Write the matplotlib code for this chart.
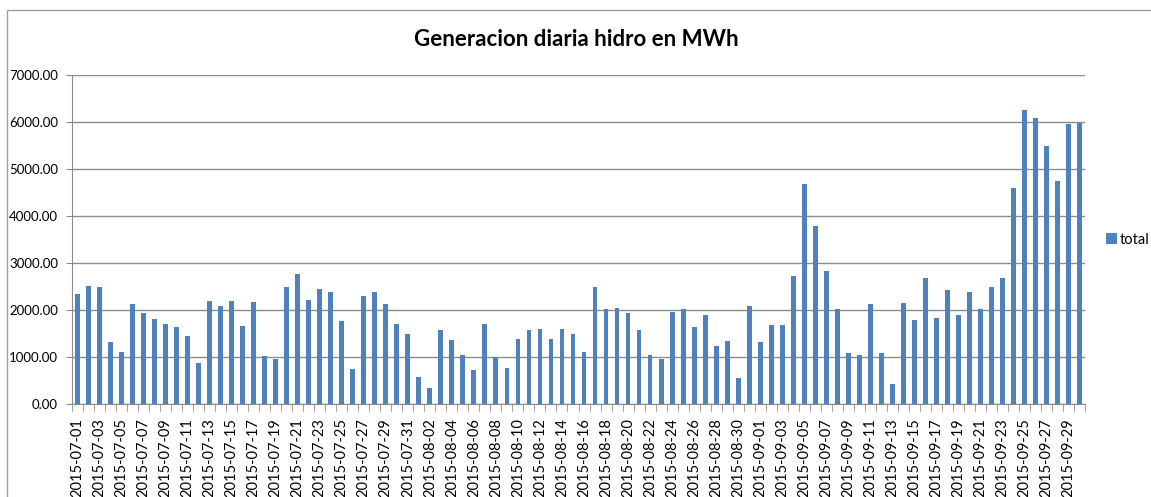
import datetime as dt

import matplotlib
matplotlib.use("Agg")
import matplotlib.pyplot as plt
import numpy as np
from matplotlib.patches import Rectangle

# daily hydro generation (MWh), 2015-07-01 .. 2015-09-30
july = [2330, 2510, 2490, 1320, 1110, 2120, 1940, 1800, 1710, 1630,
        1450, 870, 2200, 2090, 2200, 1650, 2170, 1030, 960, 2490,
        2770, 2220, 2455, 2380, 1760, 740, 2300, 2380, 2120, 1700, 1490]
august = [580, 340, 1570, 1360, 1050, 720, 1700, 1000, 770, 1380,
          1570, 1600, 1380, 1600, 1490, 1110, 2490, 2020, 2040, 1930,
          1570, 1050, 950, 1960, 2020, 1640, 1890, 1230, 1330, 550, 2080]
september = [1320, 1680, 1680, 2720, 4680, 3790, 2830, 2020, 1080, 1050,
             2120, 1080, 430, 2150, 1780, 2680, 1830, 2430, 1890, 2380,
             2020, 2490, 2680, 4600, 6260, 6080, 5490, 4750, 5960, 5980]

values = july + august + september
start = dt.date(2015, 7, 1)
dates = [(start + dt.timedelta(days=i)).isoformat() for i in range(len(values))]

bar_color = "#4F81BD"
grid_color = "#8C8C8C"
plt.rcParams["font.family"] = ["Lato", "DejaVu Sans"]

fig = plt.figure(figsize=(11.51, 4.97), dpi=100)
# chart frame (extends past the right and bottom edges of the picture)
fig.patches.append(Rectangle((7 / 1151, -0.1), 1.2, 1.09 - 5 / 497,
                             transform=fig.transFigure, fill=False,
                             edgecolor="#A0A0A0", linewidth=1.0))

ax = fig.add_axes([72 / 1151, 1 - 404 / 497, 1013 / 1151, 329 / 497])
x = np.arange(len(values))
ax.bar(x, values, width=0.44, color=bar_color, label="total", zorder=3)

ax.set_xlim(-0.5, len(values) - 0.5)
ax.set_ylim(0, 7000)
ax.set_yticks(np.arange(0, 7001, 1000))
ax.set_yticklabels([f"{v:.2f}" for v in np.arange(0, 7001, 1000)], fontsize=9.5)
ax.yaxis.grid(True, color=grid_color, linewidth=1.0, zorder=0)
ax.tick_params(axis="y", length=4, color=grid_color, pad=6)

ax.set_xticks(x[::2])
ax.set_xticklabels(dates[::2], rotation=90, fontsize=10.5)
ax.set_xticks(np.arange(-0.5, len(values), 1.0), minor=True)
ax.tick_params(axis="x", which="major", length=0, pad=10)
ax.tick_params(axis="x", which="minor", length=5, color=grid_color)

for side in ("top", "right"):
    ax.spines[side].set_visible(False)
for side in ("left", "bottom"):
    ax.spines[side].set_color(grid_color)

fig.text(576 / 1151, 1 - 40 / 497, "Generacion diaria hidro en MWh",
         ha="center", va="center", fontsize=16, fontweight="bold")

ax.legend(loc="center left", bbox_to_anchor=(1 + 21 / 1013, 0.5), frameon=False,
          fontsize=10.5, handlelength=0.75, handleheight=0.75,
          handletextpad=0.2, borderaxespad=0, borderpad=0)

fig.savefig("out.png", dpi=100)
